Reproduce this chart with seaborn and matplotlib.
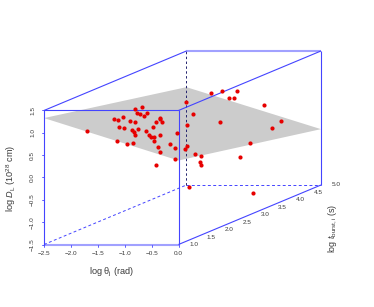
import pandas as pd
import matplotlib
matplotlib.use('Agg')
import matplotlib.pyplot as plt
import seaborn as sns

# tick values on the three axes
theta_ticks = [-2.5, -2.0, -1.5, -1.0, -0.5, 0.0]
logd_ticks = [-1.5, -1.0, -0.5, 0.0, 0.5, 1.0, 1.5]
logt_ticks = [1.0, 1.5, 2.0, 2.5, 3.0, 3.5, 4.0, 4.5, 5.0]

# fitted plane, corners as (theta, t, D)
plane_theta = [-2.5, 0.0, 0.0, -2.5]
plane_t = [1.0, 1.0, 5.0, 5.0]
plane_d = [1.33, 0.38, -0.25, 0.69]

# points as they appear on the front face of the box
theta_shown = [-1.71, -1.14, -0.95, -0.85, -1.20, -1.13, -1.04, -1.11, -1.01, -0.90,
               -0.80, -0.80, -0.68, -0.78, -0.71, -0.65, -0.58, -0.75, -0.86, -0.82,
               -0.81, -0.61, -0.55, -0.51, -0.45, -0.47, -0.42, -0.34, -0.34, -0.30,
               -0.34, -0.46, -0.39, -0.35, -0.41, -0.15, -0.06, -0.07, -0.03, 0.60,
               0.81, 1.08, 0.94, 1.03, 1.59, 0.14, 0.27, 0.78, 0.16, 1.91,
               1.74, 1.32, 0.15, 0.13, 0.30, 0.41, 1.14, 0.40, 0.42, 0.20, 1.38]
logd_shown = [1.04, 0.82, 0.76, 0.78, 1.31, 1.29, 1.35, 1.14, 1.10, 1.26,
              1.25, 1.53, 1.58, 1.44, 1.41, 1.38, 1.44, 1.09, 1.06, 1.01,
              0.96, 1.03, 0.94, 0.91, 0.91, 1.13, 1.24, 1.34, 1.30, 1.25,
              0.95, 0.81, 0.68, 0.56, 0.27, 0.74, 0.65, 0.41, 0.99, 1.90,
              1.94, 1.93, 1.77, 1.79, 1.62, 1.70, 1.41, 1.24, 1.18, 1.26,
              1.10, 0.78, 0.70, 0.64, 0.53, 0.48, 0.45, 0.34, 0.28, -0.21, -0.34]

BLUE = '#4444ff'
TXT = '#3a3a3a'

# oblique projection of the t axis
def proj(theta, t, d):
    return theta + (t - 1.0) * 0.662, d + (t - 1.0) * 0.333

sns.set_style('white')
plt.rcParams['font.family'] = ['Liberation Sans', 'DejaVu Sans']
plt.rcParams['mathtext.fontset'] = 'custom'
plt.rcParams['mathtext.rm'] = 'Liberation Sans'
plt.rcParams['mathtext.it'] = 'Liberation Sans:italic'

fig = plt.figure(figsize=(3.74, 3.07), dpi=100)
ax = fig.add_axes([0, 0, 1, 1])
ax.set_xlim(-3.318, 3.634)
ax.set_ylim(-2.899, 3.973)
ax.axis('off')

def edge(a, b, **kw):
    xa, ya = proj(*a)
    xb, yb = proj(*b)
    ax.plot([xa, xb], [ya, yb], color=BLUE, solid_capstyle='butt', **kw)

# plane
px, py = zip(*[proj(a, b, c) for a, b, c in zip(plane_theta, plane_t, plane_d)])
ax.fill(px, py, color='#cccccc', lw=0, zorder=1)

# hidden edges
edge((-2.5, 1, -1.5), (-2.5, 5, -1.5), lw=0.7, ls=(0, (3, 2.5)), zorder=2)
edge((-2.5, 5, -1.5), (0, 5, -1.5), lw=0.7, ls=(0, (3, 2.5)), zorder=2)
x0, y0 = proj(-2.5, 5, -1.5)
x1, y1 = proj(-2.5, 5, 1.5)
ax.plot([x0, x1], [y0, y1], color='#22226e', lw=0.7, ls=(0, (2.5, 2.5)), zorder=2)

# visible edges
for a, b in [((-2.5, 1, -1.5), (-2.5, 1, 1.5)), ((0, 1, -1.5), (0, 1, 1.5)),
             ((-2.5, 1, 1.5), (0, 1, 1.5)), ((-2.5, 1, 1.5), (-2.5, 5, 1.5)),
             ((0, 1, 1.5), (0, 5, 1.5)), ((0, 1, -1.5), (0, 5, -1.5)),
             ((0, 5, -1.5), (0, 5, 1.5))]:
    edge(a, b, lw=0.8, zorder=3)
edge((-2.5, 1, -1.5), (0, 1, -1.5), lw=1.5, alpha=0.5, zorder=3)
edge((-2.5, 5, 1.5), (0, 5, 1.5), lw=1.5, alpha=0.5, zorder=3)

df = pd.DataFrame({'theta': theta_shown, 'logd': logd_shown})
sns.scatterplot(data=df, x='theta', y='logd', color='#e60000', s=9, linewidth=0, ax=ax, zorder=4)
ax.set_xlabel('')
ax.set_ylabel('')

# ticks and labels
for v in theta_ticks:
    ax.plot([v, v], [-1.5, -1.55], color=BLUE, lw=0.6, zorder=3)
    ax.text(v, -1.7, f'{v:.1f}'.replace('-', '\u2212'), fontsize=4.6, color=TXT, ha='center', va='center')
for v in logd_ticks:
    ax.plot([-2.5, -2.54], [v, v], color=BLUE, lw=0.6, zorder=3)
    ax.text(-2.71, v, f'{v:.1f}'.replace('-', '\u2212'), fontsize=4.6, color=TXT, rotation=90,
            ha='center', va='center')
for v in logt_ticks:
    tx, ty = proj(0, v, -1.5)
    ax.text(tx + 0.28, ty, f'{v:.1f}', fontsize=4.6, color=TXT, ha='center', va='center')

ax.text(-1.25, -2.12, r'log $\mathrm{\theta_j}$ (rad)', fontsize=6.6, color=TXT, ha='center', va='center')
ax.text(-3.11, -0.01, r'log $D_{\mathrm{L}}$ (10$^{28}$ cm)', fontsize=6.6, color=TXT,
        rotation=90, ha='center', va='center')
ax.text(2.87, -1.13, r'log $t_{\mathrm{burst,i}}$ (s)', fontsize=6.4, color=TXT,
        rotation=90, ha='center', va='center')

fig.savefig('out.png', dpi=100)
